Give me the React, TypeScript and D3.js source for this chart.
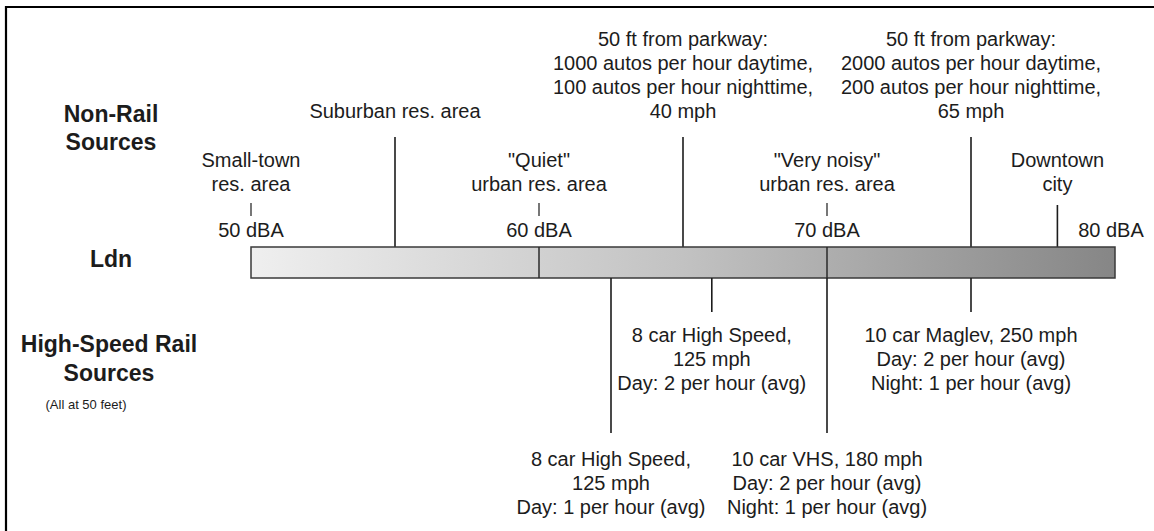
import React from "react";
import { scaleLinear } from "d3";

// Ldn scale ticks
const dbaTicks = [50, 60, 70, 80];
const dbaTickLabels = ["50 dBA", "60 dBA", "70 dBA", "80 dBA"];

// non-rail sources, upper tier (long leader lines)
const upperLevels = [55, 65, 75];
const upperLabels = [
  ["Suburban res. area"],
  ["50 ft from parkway:", "1000 autos per hour daytime,", "100 autos per hour nighttime,", "40 mph"],
  ["50 ft from parkway:", "2000 autos per hour daytime,", "200 autos per hour nighttime,", "65 mph"],
];

// non-rail sources, lower tier (short ticks)
const lowerLevels = [50, 60, 70, 78];
const lowerLabels = [
  ["Small-town", "res. area"],
  ['"Quiet"', "urban res. area"],
  ['"Very noisy"', "urban res. area"],
  ["Downtown", "city"],
];

// high-speed rail sources, near row
const railNearLevels = [66, 75];
const railNearLabels = [
  ["8 car High Speed,", "125 mph", "Day: 2 per hour (avg)"],
  ["10 car Maglev, 250 mph", "Day: 2 per hour (avg)", "Night: 1 per hour (avg)"],
];

// high-speed rail sources, far row
const railFarLevels = [62.5, 70];
const railFarLabels = [
  ["8 car High Speed,", "125 mph", "Day: 1 per hour (avg)"],
  ["10 car VHS, 180 mph", "Day: 2 per hour (avg)", "Night: 1 per hour (avg)"],
];

const W = 1154;
const H = 531;
const FONT = "'Liberation Sans', Arial, Helvetica, sans-serif";
const INK = "#1c1c1c";

export default function App() {
  const x = scaleLinear().domain([50, 80]).range([251, 1115]);
  const barTop = 247;
  const barBot = 278;
  const lh = 24;

  const block = (lines: string[], cx: number, firstBaseline: number, key: string) => (
    <text key={key} x={cx} textAnchor="middle" fontSize={20} fill={INK}>
      {lines.map((l, i) => (
        <tspan key={i} x={cx} y={firstBaseline + i * lh}>
          {l}
        </tspan>
      ))}
    </text>
  );

  return (
    <svg
      width={W}
      height={H}
      style={{ position: "absolute", left: 0, top: 0, background: "#fff" }}
      fontFamily={FONT}
    >
      <defs>
        <linearGradient id="ldn" x1="0" x2="1" y1="0" y2="0">
          <stop offset="0" stopColor="#efefef" />
          <stop offset="0.5" stopColor="#c2c2c2" />
          <stop offset="1" stopColor="#868686" />
        </linearGradient>
      </defs>

      {/* frame */}
      <path d={`M6,${H + 5} V7 H${W + 5}`} fill="none" stroke="#000" strokeWidth={2.2} />

      {/* left titles */}
      <g fontWeight="bold" fontSize={23} fill={INK} textAnchor="middle">
        <text x={111} y={122}>Non-Rail</text>
        <text x={111} y={150}>Sources</text>
        <text x={111} y={267}>Ldn</text>
        <text x={109} y={352}>High-Speed Rail</text>
        <text x={109} y={381}>Sources</text>
      </g>
      <text x={86} y={409} fontSize={13} fill={INK} textAnchor="middle">
        (All at 50 feet)
      </text>

      {/* upper tier */}
      {upperLevels.map((v, i) => (
        <g key={"u" + i}>
          <line x1={x(v)} x2={x(v)} y1={137} y2={barTop} stroke={INK} strokeWidth={1.6} />
          {block(upperLabels[i], x(v), 118 - (upperLabels[i].length - 1) * lh, "ut" + i)}
        </g>
      ))}

      {/* lower tier */}
      {lowerLevels.map((v, i) => (
        <g key={"l" + i}>
          {block(lowerLabels[i], x(v), 167, "lt" + i)}
        </g>
      ))}
      {/* downtown line reaches the bar */}
      <line x1={x(lowerLevels[3])} x2={x(lowerLevels[3])} y1={205} y2={barTop} stroke={INK} strokeWidth={1.6} />

      {/* dBA ticks */}
      {dbaTicks.map((v, i) => (
        <g key={"t" + i}>
          {i < 3 && <line x1={x(v)} x2={x(v)} y1={203} y2={216} stroke={INK} strokeWidth={1.2} />}
          <text x={i < 3 ? x(v) : x(v) - 4} y={237} fontSize={20} fill={INK} textAnchor="middle">
            {dbaTickLabels[i]}
          </text>
        </g>
      ))}

      {/* Ldn bar */}
      <rect
        x={x(50)}
        y={barTop}
        width={x(80) - x(50)}
        height={barBot - barTop}
        fill="url(#ldn)"
        stroke="#3a3a3a"
        strokeWidth={1.5}
      />
      {[60, 70].map((v) => (
        <line key={v} x1={x(v)} x2={x(v)} y1={barTop} y2={barBot} stroke="#2a2a2a" strokeWidth={1.5} />
      ))}

      {/* rail near row */}
      {railNearLevels.map((v, i) => (
        <g key={"rn" + i}>
          <line x1={x(v)} x2={x(v)} y1={barBot} y2={312} stroke={INK} strokeWidth={1.6} />
          {block(railNearLabels[i], x(v), 342, "rnt" + i)}
        </g>
      ))}

      {/* rail far row */}
      {railFarLevels.map((v, i) => (
        <g key={"rf" + i}>
          <line x1={x(v)} x2={x(v)} y1={barBot} y2={433} stroke={INK} strokeWidth={1.6} />
          {block(railFarLabels[i], x(v), 466, "rft" + i)}
        </g>
      ))}
    </svg>
  );
}
